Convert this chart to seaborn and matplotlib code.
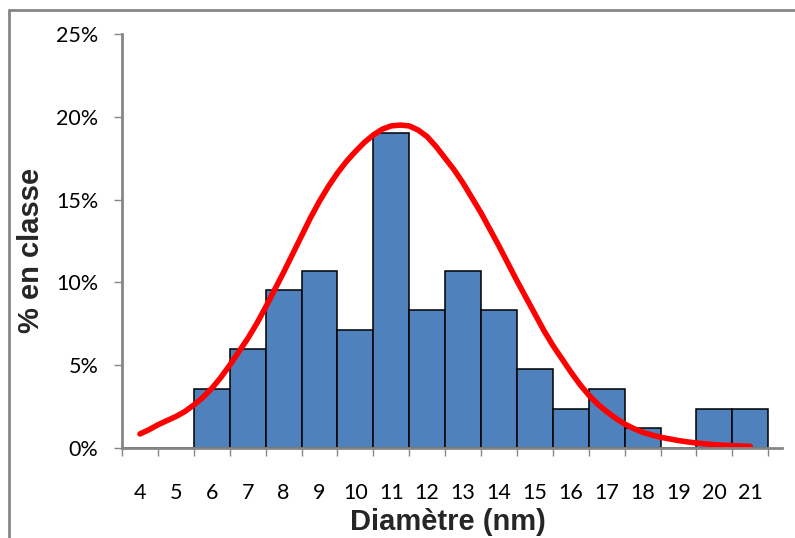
import numpy as np
import pandas as pd
import matplotlib
matplotlib.use("Agg")
import matplotlib.pyplot as plt
import seaborn as sns
from matplotlib.ticker import FixedLocator, NullFormatter, FixedFormatter, FuncFormatter
from matplotlib.lines import Line2D

# ---- data ----
diameters = [4, 5, 6, 7, 8, 9, 10, 11, 12, 13, 14, 15, 16, 17, 18, 19, 20, 21]
pct_in_class = [0.0, 0.0, 3.57, 5.95, 9.52, 10.71, 7.14, 19.05, 8.33, 10.71,
                8.33, 4.76, 2.38, 3.57, 1.19, 0.0, 2.38, 2.38]

fit_diam = [4.0, 4.25, 4.5, 4.75, 5.0, 5.25, 5.5, 5.75, 6.0, 6.25, 6.5, 6.75,
            7.0, 7.25, 7.5, 7.75, 8.0, 8.25, 8.5, 8.75, 9.0, 9.25, 9.5, 9.75,
            10.0, 10.25, 10.5, 10.75, 11.0, 11.25, 11.5, 11.75, 12.0, 12.25,
            12.5, 12.75, 13.0, 13.25, 13.5, 13.75, 14.0, 14.25, 14.5, 14.75,
            15.0, 15.25, 15.5, 15.75, 16.0, 16.25, 16.5, 16.75, 17.0, 17.25,
            17.5, 17.75, 18.0, 18.25, 18.5, 18.75, 19.0, 19.25, 19.5, 19.75,
            20.0, 20.25, 20.5, 20.75, 21.0]
fit_pct = [0.85, 1.1, 1.4, 1.65, 1.9, 2.2, 2.6, 3.05, 3.6, 4.25, 5.0, 5.8,
           6.6, 7.5, 8.5, 9.55, 10.6, 11.7, 12.8, 13.9, 14.9, 15.8, 16.6, 17.3,
           17.9, 18.45, 18.9, 19.25, 19.45, 19.5, 19.45, 19.2, 18.8, 18.2,
           17.5, 16.8, 16.0, 15.1, 14.2, 13.2, 12.2, 11.15, 10.1, 9.1,
           8.1, 7.1, 6.2, 5.4, 4.6, 3.85, 3.2, 2.65, 2.2, 1.8,
           1.45, 1.18, 0.95, 0.79, 0.65, 0.55, 0.45, 0.37, 0.3, 0.25,
           0.2, 0.17, 0.14, 0.12, 0.1]

y_ticks = [0, 5, 10, 15, 20, 25]
x_tick_labels = [str(d) for d in diameters]

bars = pd.DataFrame({"diam": diameters, "pct": pct_in_class})
fit = pd.DataFrame({"diam": fit_diam, "pct": fit_pct})

sns.set_theme(style="white")
plt.rcParams["font.family"] = ["Lato", "DejaVu Sans"]

W, H = 795, 538
fig = plt.figure(figsize=(W / 100, H / 100), dpi=100)
ax = fig.add_axes([122 / W, 1 - 448 / H, 660 / W, 414 / H])

grey = "#868686"

sns.barplot(data=bars, x="diam", y="pct", native_scale=True, width=1,
            color="#4F81BD", saturation=1, edgecolor="black", linewidth=1.1,
            ax=ax, zorder=1)
sns.lineplot(data=fit, x="diam", y="pct", color="#FF0000", linewidth=4,
             solid_capstyle="round", solid_joinstyle="round", ax=ax, zorder=3)

ax.set_xlim(3.5, 3.5 + 660 / 35.9)
ax.set_ylim(0, 25)

# x: boundary ticks (major, no labels) + centered labels (minor)
ax.xaxis.set_major_locator(FixedLocator(np.arange(3.5, 22.0, 1.0)))
ax.xaxis.set_major_formatter(NullFormatter())
ax.xaxis.set_minor_locator(FixedLocator(diameters))
ax.xaxis.set_minor_formatter(FixedFormatter(x_tick_labels))
ax.tick_params(axis="x", which="major", bottom=True, length=6, width=1,
               color=grey, direction="out")
ax.tick_params(axis="x", which="minor", bottom=True, length=0, pad=25,
               labelsize=15.5, labelcolor="black")

ax.yaxis.set_major_locator(FixedLocator(y_ticks))
ax.yaxis.set_major_formatter(FuncFormatter(lambda v, p: f"{v:.0f}%"))
ax.tick_params(axis="y", which="major", left=True, length=6, width=1,
               color=grey, direction="out", pad=11, labelsize=15.5,
               labelcolor="black")

ax.set_xlabel("")
ax.set_ylabel("")
for s in ["top", "right"]:
    ax.spines[s].set_visible(False)
for s in ["left", "bottom"]:
    ax.spines[s].set_color(grey)
    ax.spines[s].set_linewidth(2)
    ax.spines[s].set_zorder(4)

fig.text(448 / W, 1 - 530 / H, "Diamètre (nm)", ha="center", va="baseline",
         fontsize=21, fontweight="bold", family=["Liberation Sans", "DejaVu Sans"])
fig.text(31 / W, 1 - 250 / H, "% en classe", ha="center", va="center",
         rotation=90, fontsize=21, fontweight="bold",
         family=["Liberation Sans", "DejaVu Sans"])

# outer chart frame (left and top visible)
fig.add_artist(Line2D([9 / W, 9 / W], [0, 1 - 10 / H], transform=fig.transFigure,
                      color=grey, lw=2))
fig.add_artist(Line2D([9 / W, 1], [1 - 10 / H, 1 - 10 / H], transform=fig.transFigure,
                      color=grey, lw=2))

fig.savefig("out.png", dpi=100)
